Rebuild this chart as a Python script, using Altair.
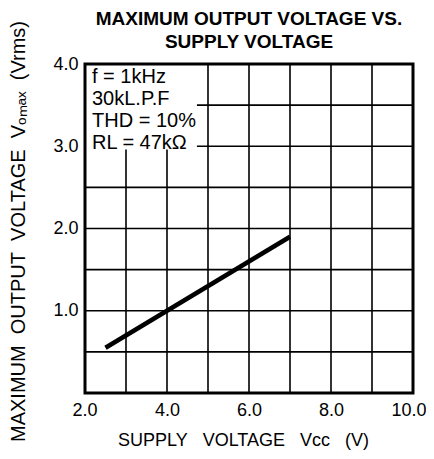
import altair as alt
import pandas as pd

# ---- data ----
supply_v = [2.5, 7.0]            # Vcc (V)
vomax = [0.55, 1.90]             # Vomax (Vrms)

x_grid = [3, 4, 5, 6, 7, 8, 9]
y_grid = [0.5, 1.0, 1.5, 2.0, 2.5, 3.0, 3.5]
x_ticks = [2, 4, 6, 8, 10]
y_ticks = [1, 2, 3, 4]

box_x = [2.0, 4.73]
box_y = [2.96, 4.0]
legend_lines = ["f = 1kHz", "30kL.P.F", "THD = 10%", "RL = 47k\u03a9"]

frame_x = [2.0, 10.0]
frame_y = [0.0, 4.0]

FONT = "Liberation Sans"
NB = "\u00a0"

xs = alt.Scale(domain=[2, 10], nice=False, zero=False)
ys = alt.Scale(domain=[0, 4], nice=False, zero=False)

line_df = pd.DataFrame({"x": supply_v, "y": vomax})
vgrid_df = pd.DataFrame({"x": x_grid})
hgrid_df = pd.DataFrame({"y": y_grid})
box_df = pd.DataFrame({"x": [box_x[0]], "x2": [box_x[1]], "y": [box_y[0]], "y2": [box_y[1]]})
frame_df = pd.DataFrame({"x": [frame_x[0]], "x2": [frame_x[1]], "y": [frame_y[0]], "y2": [frame_y[1]]})
legend_df = pd.DataFrame({"x": [box_x[0]], "y": [box_y[1]], "t": [legend_lines]})

x_title = f"SUPPLY{NB*3}VOLTAGE{NB*3}Vcc{NB*3}(V)"
y_title = f"MAXIMUM{NB*2}OUTPUT{NB*2}VOLTAGE{NB*2}V\u2092\u2098\u2090\u2093{NB*2}(Vrms)"

vgrid = alt.Chart(vgrid_df).mark_rule(color="black", strokeWidth=1.6).encode(
    x=alt.X("x:Q", scale=xs, axis=alt.Axis(
        values=x_ticks, format=".1f", grid=False, domain=False, ticks=False,
        labelFlush=True, labelFlushOffset=13, labelPadding=8, labelFontSize=18,
        labelFont=FONT, labelColor="black",
        title=x_title, titleFont=FONT, titleFontSize=18, titleFontWeight="normal",
        titleColor="black", titleX=158, titleY=47, titleAlign="center", titleBaseline="middle")),
)
hgrid = alt.Chart(hgrid_df).mark_rule(color="black", strokeWidth=1.6).encode(
    y=alt.Y("y:Q", scale=ys, axis=alt.Axis(
        values=y_ticks, format=".1f", grid=False, domain=False, ticks=False,
        labelFlush=False, labelPadding=7, labelFontSize=18, labelFont=FONT,
        labelColor="black",
        title=y_title, titleFont=FONT, titleFontSize=20, titleFontWeight="normal",
        titleColor="black", titleAngle=270, titleX=-67, titleY=167,
        titleAlign="center", titleBaseline="middle")),
)
box = alt.Chart(box_df).mark_rect(fill="white").encode(
    x=alt.X("x:Q", scale=xs), x2="x2:Q", y=alt.Y("y:Q", scale=ys), y2="y2:Q"
)
legend = alt.Chart(legend_df).mark_text(
    align="left", baseline="top", font=FONT, fontSize=20, lineHeight=22,
    dx=7, dy=3, color="black"
).encode(x=alt.X("x:Q", scale=xs), y=alt.Y("y:Q", scale=ys), text="t")
line = alt.Chart(line_df).mark_line(color="black", strokeWidth=4.5).encode(
    x=alt.X("x:Q", scale=xs), y=alt.Y("y:Q", scale=ys)
)
frame = alt.Chart(frame_df).mark_rect(filled=False, stroke="black", strokeWidth=3).encode(
    x=alt.X("x:Q", scale=xs), x2="x2:Q", y=alt.Y("y:Q", scale=ys), y2="y2:Q"
)

chart = alt.layer(vgrid, hgrid, box, legend, line, frame).properties(
    width=328, height=329,
    autosize=alt.AutoSizeParams(type="none"),
    padding={"left": 77, "top": 56, "right": 13, "bottom": 58},
    title=alt.TitleParams(
        text=["MAXIMUM OUTPUT VOLTAGE VS.", "SUPPLY VOLTAGE"],
        font=FONT, fontSize=19, fontWeight="bold", lineHeight=23,
        anchor="middle", offset=2, dy=33, color="black"),
).configure_view(strokeWidth=0).configure(background="white")

chart.save("out.html", embed_options={"renderer": "svg", "actions": False})
